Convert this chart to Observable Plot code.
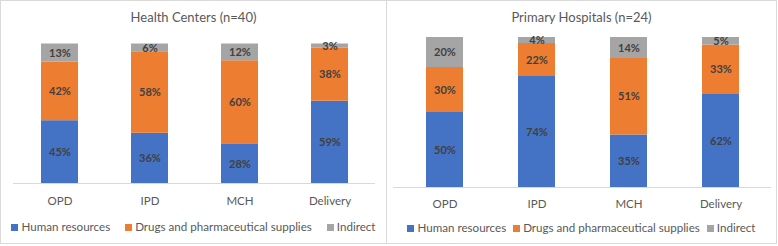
<!DOCTYPE html>
<html>
<head>
<meta charset="utf-8">
<script src="https://cdn.jsdelivr.net/npm/d3@7"></script>
<script src="https://cdn.jsdelivr.net/npm/@observablehq/plot@0.6"></script>
<style>
  body { margin: 0; background: #fff; font-family: Lato, "Noto Sans", sans-serif; }
  #wrap { position: relative; width: 778px; height: 246px; }
  .panel { position: absolute; top: 0; height: 244px; box-shadow: inset 0 0 0 1px #d9d9d9; }
  .panel svg { position: absolute; left: 0; top: 0; }
  .title { position: absolute; left: 0; right: 0; text-align: center; font-size: 13px; color: #595959; line-height: 1; }
  .legend { position: absolute; left: 0; right: 0; display: flex; justify-content: center; font-size: 11.6px; color: #595959; line-height: 1; }
  .legend span.sw { display: inline-block; width: 7px; height: 7px; margin-right: 3px; vertical-align: 0px; }
</style>
</head>
<body>
<div id="wrap"></div>
<script>
const categories = ["OPD", "IPD", "MCH", "Delivery"];
const components = ["Human resources", "Drugs and pharmaceutical supplies", "Indirect"];
const colors = ["#4472C4", "#ED7D31", "#A5A5A5"];

const hcTitle = "Health Centers (n=40)";
const hcHuman = [45, 36, 28, 59];
const hcDrugs = [42, 58, 60, 38];
const hcIndirect = [13, 6, 12, 3];

const phTitle = "Primary Hospitals (n=24)";
const phHuman = [50, 74, 35, 62];
const phDrugs = [30, 22, 51, 33];
const phIndirect = [20, 4, 14, 5];

function rows(h, d, ind) {
  const out = [];
  categories.forEach((c, i) => {
    out.push({cat: c, comp: components[0], value: h[i]});
    out.push({cat: c, comp: components[1], value: d[i]});
    out.push({cat: c, comp: components[2], value: ind[i]});
  });
  return out;
}

function panel(cfg) {
  const div = document.createElement("div");
  div.className = "panel";
  div.style.left = cfg.left + "px";
  div.style.width = cfg.width + "px";
  const data = rows(...cfg.series);
  const svg = Plot.plot({
    width: cfg.width,
    height: 244,
    marginLeft: cfg.ml,
    marginRight: cfg.mr,
    marginTop: cfg.mt,
    marginBottom: cfg.mb,
    style: {fontFamily: "Lato, 'Noto Sans', sans-serif", background: "transparent"},
    x: {domain: categories, paddingInner: cfg.pi, paddingOuter: cfg.po, label: null, tickSize: 0, tickPadding: cfg.tp},
    y: {domain: [0, 100], axis: null},
    color: {domain: components, range: colors},
    marks: [
      Plot.barY(data, Plot.stackY({x: "cat", y: "value", fill: "comp", order: components})),
      Plot.ruleY([0], {stroke: "#d9d9d9", strokeWidth: 1}),
      Plot.text(data, Plot.stackY({x: "cat", y: "value", z: "comp", order: components,
        text: d => d.value + "%", fill: "#404040", fontWeight: "bold", fontSize: 11})),
      Plot.axisX({tickSize: 0, tickPadding: cfg.tp, fontSize: 11.5, color: "#595959", label: null})
    ]
  });
  div.appendChild(svg);
  const t = document.createElement("div");
  t.className = "title";
  t.style.top = (cfg.titleY - 6.5) + "px";
  t.textContent = cfg.title;
  div.appendChild(t);
  const lg = document.createElement("div");
  lg.className = "legend";
  lg.style.gap = cfg.gap + "px";
  lg.style.top = (cfg.legendY - 6) + "px";
  components.forEach((c, i) => {
    const it = document.createElement("div");
    it.innerHTML = `<span class="sw" style="background:${colors[i]}"></span>${c}`;
    lg.appendChild(it);
  });
  div.appendChild(lg);
  document.getElementById("wrap").appendChild(div);
}

panel({left: 0, width: 387, ml: 13, mr: 12, mt: 43.5, mb: 61, pi: 0.59, po: 0.295, tp: 13, gap: 15,
  series: [hcHuman, hcDrugs, hcIndirect], title: hcTitle, titleY: 17, legendY: 227});
panel({left: 386, width: 391, ml: 7, mr: 6, mt: 37, mb: 57, pi: 0.598, po: 0.348, tp: 12, gap: 7,
  series: [phHuman, phDrugs, phIndirect], title: phTitle, titleY: 17, legendY: 228});
</script>
</body>
</html>
